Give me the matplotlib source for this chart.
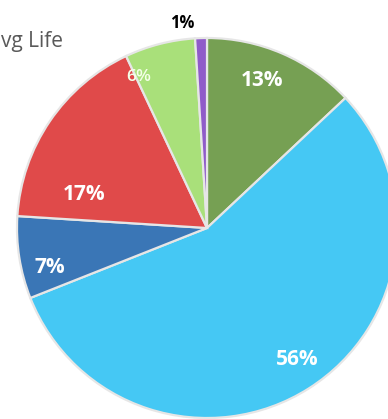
import matplotlib
matplotlib.use("Agg")
import matplotlib.pyplot as plt
import numpy as np

labels = ["13%", "56%", "7%", "17%", "6%", "1%"]
values = [13, 56, 7, 17, 6, 1]
colors = ["#76A053", "#45C8F4", "#3A76B6", "#E04A4A", "#A9E07A", "#8F5BC9"]
title = "vg Life"

W, H = 388, 419
fig = plt.figure(figsize=(W / 100, H / 100), dpi=100)
ax = fig.add_axes([0, 0, 1, 1])
cx, cy, R = 207, 191, 190

wedges, texts = ax.pie(values, colors=colors, startangle=90, counterclock=False,
                       center=(cx, cy), radius=R, explode=[0.012] * 6,
                       wedgeprops=dict(edgecolor="#e6e6e6", linewidth=1.6))
ax.set_xlim(0, W)
ax.set_ylim(0, H)
ax.set_aspect("equal")
ax.axis("off")

# label placement: (radial fraction, angle offset deg, fontsize, weight, color)
styles = [
    (0.83, 3, 15, "bold", "white"),
    (0.84, 2, 15, "bold", "white"),
    (0.85, 5, 15, "bold", "white"),
    (0.67, 19, 15, "bold", "white"),
    (0.87, 10, 12.5, "semibold", "#f4ffe8"),
    (1.085, 5, 12, "bold", "black"),
]
for w, lab, (rf, off, fs, fw, col) in zip(wedges, labels, styles):
    th = np.deg2rad((w.theta1 + w.theta2) / 2 + off)
    ax.text(cx + rf * R * np.cos(th), cy + rf * R * np.sin(th), lab,
            ha="center", va="center", fontsize=fs, fontweight=fw, color=col,
            family="Open Sans")

fig.text(1 / W, 1 - 41 / H, title, ha="left", va="center", fontsize=15,
         color="#595959", family="Open Sans")

fig.savefig("out.png", dpi=100)
